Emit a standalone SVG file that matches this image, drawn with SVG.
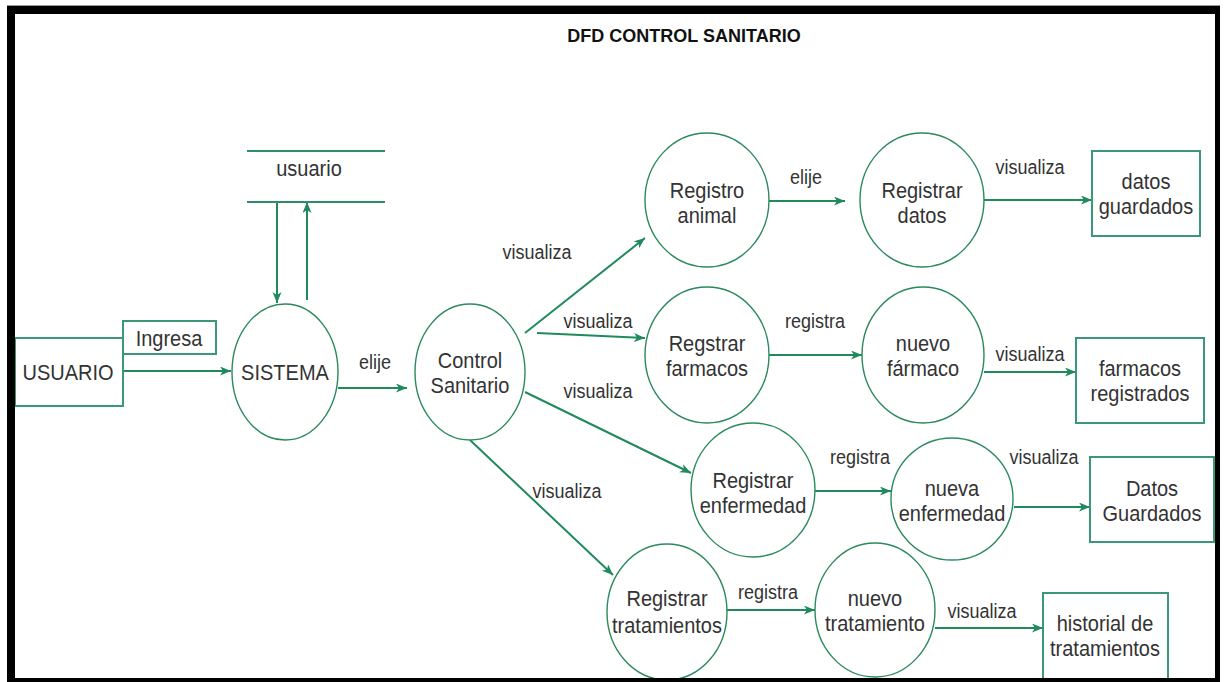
<svg xmlns="http://www.w3.org/2000/svg" width="1224" height="682" viewBox="0 0 1224 682">
  <style>
    .proc { fill: #ffffff; stroke: #2b8a5c; stroke-width: 1.4; }
    .ent { fill: #ffffff; stroke: #3a9877; stroke-width: 2; }
    .store { stroke: #2f8e66; stroke-width: 2; }
    .flow { fill: none; stroke: #1f8a5b; stroke-width: 2; marker-end: url(#arrow); }
    .t, .lbl { font-family: "Liberation Sans", Arial, sans-serif; fill: #333333; text-anchor: middle;
               transform-box: fill-box; transform-origin: 50% 50%; transform: scaleY(1.12); }
    .t { font-size: 20px; }
    .lbl { font-size: 18px; }
    .title { font-family: "Liberation Sans", Arial, sans-serif; font-size: 18px; font-weight: bold; fill: #111111; text-anchor: middle; }
  </style>
  <defs>
    <marker id="arrow" markerUnits="userSpaceOnUse" markerWidth="12" markerHeight="10" refX="11" refY="4.5" orient="auto">
      <path d="M0,0 L11,4.5 L0,9 L3,4.5 Z" fill="#1f8a5b"/>
    </marker>
  </defs>

  <!-- page frame -->
  <rect x="0" y="0" width="1224" height="682" fill="#ffffff"/>
  <rect x="7" y="6" width="1213" height="676" fill="#000000"/>
  <rect x="15" y="14" width="1200" height="664" fill="#ffffff"/>
  <line x1="7" y1="5.5" x2="1220" y2="5.5" stroke="#9a9a9a" stroke-width="1"/>

  <text class="title" x="684" y="42">DFD CONTROL SANITARIO</text>

  <!-- connectors -->
  <g id="connectors">
    <line class="flow" x1="123" y1="371" x2="231" y2="371"/>
    <line class="flow" x1="277" y1="202" x2="277" y2="303"/>
    <line class="flow" x1="307" y1="300" x2="307" y2="202"/>
    <line class="flow" x1="338" y1="388" x2="407" y2="388"/>
    <line class="flow" x1="525" y1="333" x2="645" y2="238"/>
    <line class="flow" x1="537" y1="333" x2="645" y2="338"/>
    <line class="flow" x1="525" y1="392" x2="691" y2="473"/>
    <line class="flow" x1="470" y1="440" x2="613" y2="575"/>
    <line class="flow" x1="769" y1="201" x2="845" y2="201"/>
    <line class="flow" x1="984" y1="200" x2="1092" y2="200"/>
    <line class="flow" x1="769" y1="355" x2="862" y2="355"/>
    <line class="flow" x1="984" y1="372" x2="1076" y2="372"/>
    <line class="flow" x1="815" y1="491" x2="891" y2="491"/>
    <line class="flow" x1="1014" y1="507" x2="1090" y2="507"/>
    <line class="flow" x1="726" y1="610" x2="815" y2="610"/>
    <line class="flow" x1="935" y1="628" x2="1043" y2="628"/>

    <text class="lbl" x="375" y="368">elije</text>
    <text class="lbl" x="537" y="258">visualiza</text>
    <text class="lbl" x="598" y="327">visualiza</text>
    <text class="lbl" x="598" y="397">visualiza</text>
    <text class="lbl" x="567" y="497">visualiza</text>
    <text class="lbl" x="806" y="183">elije</text>
    <text class="lbl" x="1030" y="173">visualiza</text>
    <text class="lbl" x="815" y="327">registra</text>
    <text class="lbl" x="1030" y="360">visualiza</text>
    <text class="lbl" x="860" y="463">registra</text>
    <text class="lbl" x="1044" y="463">visualiza</text>
    <text class="lbl" x="768" y="598">registra</text>
    <text class="lbl" x="982" y="617">visualiza</text>
  </g>

  <!-- external entities -->
  <g id="usuario-entity">
    <rect class="ent" x="15" y="338" width="108" height="68"/>
    <text class="t" x="68" y="379">USUARIO</text>
  </g>
  <g id="ingresa-label">
    <rect class="ent" x="123" y="321" width="93" height="33"/>
    <text class="t" x="169" y="345">Ingresa</text>
  </g>

  <!-- data store -->
  <g id="usuario-store">
    <line class="store" x1="247" y1="151" x2="385" y2="151"/>
    <line class="store" x1="247" y1="202" x2="385" y2="202"/>
    <text class="t" x="309" y="175">usuario</text>
  </g>

  <!-- processes -->
  <g id="sistema">
    <ellipse class="proc" cx="285" cy="372" rx="53" ry="68"/>
    <text class="t" x="285" y="379">SISTEMA</text>
  </g>
  <g id="control-sanitario">
    <ellipse class="proc" cx="470" cy="372" rx="55" ry="68"/>
    <text class="t" x="470" y="367">Control</text>
    <text class="t" x="470" y="392">Sanitario</text>
  </g>
  <g id="registro-animal">
    <ellipse class="proc" cx="707" cy="200" rx="62" ry="67"/>
    <text class="t" x="707" y="197">Registro</text>
    <text class="t" x="707" y="222">animal</text>
  </g>
  <g id="registrar-datos">
    <ellipse class="proc" cx="922" cy="200" rx="62" ry="67"/>
    <text class="t" x="922" y="197">Registrar</text>
    <text class="t" x="922" y="222">datos</text>
  </g>
  <g id="regstrar-farmacos">
    <ellipse class="proc" cx="707" cy="355" rx="62" ry="68"/>
    <text class="t" x="707" y="350">Regstrar</text>
    <text class="t" x="707" y="375">farmacos</text>
  </g>
  <g id="nuevo-farmaco">
    <ellipse class="proc" cx="923" cy="355" rx="61" ry="68"/>
    <text class="t" x="923" y="350">nuevo</text>
    <text class="t" x="923" y="375">fármaco</text>
  </g>
  <g id="registrar-enfermedad">
    <ellipse class="proc" cx="753" cy="490" rx="62" ry="67"/>
    <text class="t" x="753" y="487">Registrar</text>
    <text class="t" x="753" y="512">enfermedad</text>
  </g>
  <g id="nueva-enfermedad">
    <ellipse class="proc" cx="952" cy="499" rx="61" ry="61"/>
    <text class="t" x="952" y="495">nueva</text>
    <text class="t" x="952" y="520">enfermedad</text>
  </g>
  <g id="registrar-tratamientos">
    <ellipse class="proc" cx="667" cy="612" rx="60" ry="68"/>
    <text class="t" x="667" y="605">Registrar</text>
    <text class="t" x="667" y="632">tratamientos</text>
  </g>
  <g id="nuevo-tratamiento">
    <ellipse class="proc" cx="875" cy="610" rx="60" ry="67"/>
    <text class="t" x="875" y="605">nuevo</text>
    <text class="t" x="875" y="630">tratamiento</text>
  </g>

  <!-- result stores -->
  <g id="datos-guardados">
    <rect class="ent" x="1092" y="151" width="108" height="85"/>
    <text class="t" x="1146" y="188">datos</text>
    <text class="t" x="1146" y="213">guardados</text>
  </g>
  <g id="farmacos-registrados">
    <rect class="ent" x="1076" y="338" width="128" height="85"/>
    <text class="t" x="1140" y="375">farmacos</text>
    <text class="t" x="1140" y="400">registrados</text>
  </g>
  <g id="datos-guardados-enf">
    <rect class="ent" x="1090" y="457" width="124" height="85"/>
    <text class="t" x="1152" y="495">Datos</text>
    <text class="t" x="1152" y="520">Guardados</text>
  </g>
  <g id="historial">
    <rect class="ent" x="1043" y="593" width="125" height="90"/>
    <text class="t" x="1105" y="630">historial de</text>
    <text class="t" x="1105" y="655">tratamientos</text>
  </g>

  <!-- frame edges drawn over nodes -->
  <rect x="7" y="6" width="8" height="676" fill="#000000"/>
  <rect x="1215" y="6" width="5" height="676" fill="#000000"/>
  <rect x="7" y="678" width="1213" height="4" fill="#000000"/>
</svg>
